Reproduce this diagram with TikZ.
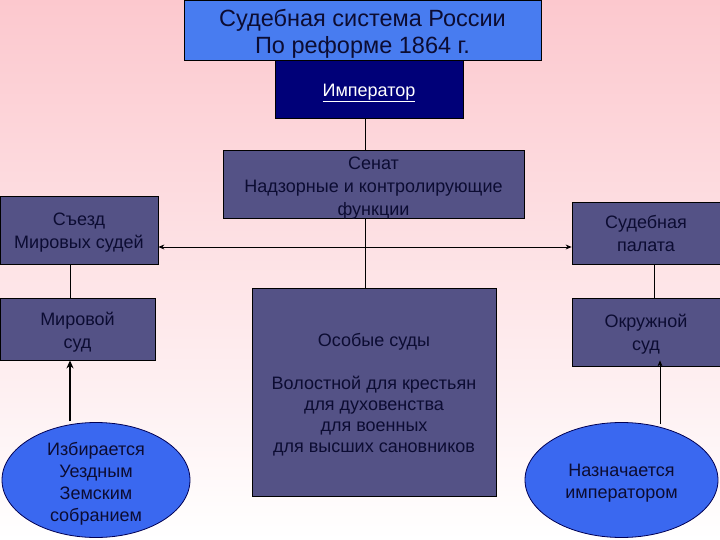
\documentclass[tikz,border=0pt]{standalone}
\usepackage{fontspec}
\setmainfont{Liberation Sans}
\usetikzlibrary{shapes.geometric,arrows.meta}
\definecolor{bgpink}{RGB}{252,200,206}
\definecolor{slate}{RGB}{84,82,134}
\definecolor{titleblue}{RGB}{72,124,240}
\definecolor{navy}{RGB}{0,0,120}
\definecolor{ellblue}{RGB}{58,104,240}
\definecolor{txtdark}{RGB}{12,12,50}
\begin{document}
\begin{tikzpicture}[x=1pt,y=-1pt,
  font=\fontsize{18}{23}\selectfont,
  box/.style={draw=black, line width=0.8pt, fill=slate, inner sep=0pt},
  oval/.style={ellipse, draw=navy!70!black, line width=0.8pt, fill=ellblue, inner sep=0pt},
  lbl/.style={text=txtdark, align=center, inner sep=0pt},
  conn/.style={draw=black, line width=0.8pt},
  tip/.style={-{Stealth[length=6pt,width=5pt]}}
]
\useasboundingbox (0,0) rectangle (720,540);
\shade[top color=bgpink, bottom color=white] (0,0) rectangle (720,540);

\coordinate (ax) at (365,0);
\coordinate (ay) at (0,247);
\coordinate (lx) at (70,0);
\coordinate (px) at (654,0);
\coordinate (rx) at (660,0);

\node[box, fill=titleblue, minimum width=357pt, minimum height=60pt,
      label={[lbl, name=titleT, yshift=-4pt, font=\fontsize{23.5}{27}\selectfont]center:{Судебная система России\\По реформе 1864 г.}}] (title) at (362.5,30) {};
\node[box, fill=navy, minimum width=188pt, minimum height=58pt,
      label={[lbl, name=empT, text=white, yshift=-4pt]center:{\underline{Император}}}] (emp) at (369,89) {};
\node[box, minimum width=301pt, minimum height=68pt,
      label={[lbl, name=senT, yshift=-4pt]center:{Сенат\\Надзорные и контролирующие\\функции}}] (sen) at (373.5,184) {};
\node[box, minimum width=158pt, minimum height=68pt,
      label={[lbl, name=sezT, yshift=-3pt]center:{Съезд\\Мировых судей}}] (sez) at (79,230) {};
\node[box, minimum width=155pt, minimum height=62pt,
      label={[lbl, name=mirT, yshift=-3pt]center:{Мировой\\суд}}] (mir) at (77.5,329) {};
\node[box, minimum width=244pt, minimum height=208pt,
      label={[lbl, name=osobT, yshift=-3pt, font=\fontsize{18}{21.2}\selectfont]center:{Особые суды\\ \\Волостной для крестьян\\для духовенства\\для военных\\для высших сановников}}] (osob) at (374,392) {};
\node[box, minimum width=148pt, minimum height=62pt,
      label={[lbl, name=palT, yshift=-0.5pt]center:{Судебная\\палата}}] (pal) at (646,233) {};
\node[box, minimum width=148pt, minimum height=68pt,
      label={[lbl, name=okrT, yshift=-2pt]center:{Окружной\\суд}}] (okr) at (646,332) {};
\node[oval, minimum width=188pt, minimum height=115pt,
      label={[lbl, name=lellT, yshift=-4pt, font=\fontsize{18}{22}\selectfont]center:{Избирается\\Уездным\\Земским\\собранием}}] (lell) at (96,480) {};
\node[oval, minimum width=193pt, minimum height=115pt,
      label={[lbl, name=rellT, yshift=-3pt, font=\fontsize{18}{22}\selectfont]center:{Назначается\\императором}}] (rell) at (621.5,480) {};

\draw[conn] (emp.south -| ax) -- (sen.north -| ax);
\draw[conn] (sen.south -| ax) -- (osob.north -| ax);
\draw[conn, {Stealth[length=6pt,width=5pt]}-{Stealth[length=6pt,width=5pt]}] (sez.east |- ay) -- (pal.west |- ay);
\draw[conn] (sez.south -| lx) -- (mir.north -| lx);
\draw[conn] (pal.south -| px) -- (okr.north -| px);
\draw[conn, line width=2.5pt, -{Stealth[length=8pt,width=7pt]}] (lell.north -| lx) ++(0,-1) -- (mir.south -| lx);
\draw[conn, tip] (rell.north -| rx) ++(0,2) -- ([yshift=6pt]okr.south -| rx);
\end{tikzpicture}
\end{document}
